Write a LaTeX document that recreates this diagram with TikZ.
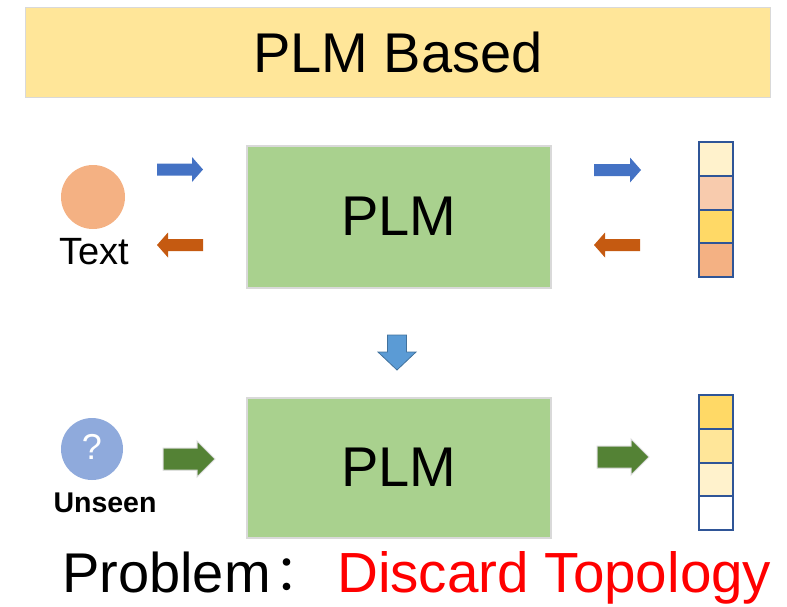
\documentclass[tikz,border=0pt]{standalone}
\usepackage{fontspec}
\setmainfont{Liberation Sans}
\newfontfamily\cjkfont{Noto Sans CJK SC}
\definecolor{bandfill}{HTML}{FFE699}
\definecolor{plmfill}{HTML}{A9D18E}
\definecolor{textcirc}{HTML}{F4B183}
\definecolor{unseencirc}{HTML}{8FAADC}
\definecolor{arrblue}{HTML}{4472C4}
\definecolor{arrorange}{HTML}{C55A11}
\definecolor{arrgreen}{HTML}{548235}
\definecolor{downfill}{HTML}{5B9BD5}
\definecolor{downline}{HTML}{41719C}
\definecolor{cellline}{HTML}{2F5597}
\definecolor{cA}{HTML}{FFF2CC}
\definecolor{cB}{HTML}{F8CBAD}
\definecolor{cC}{HTML}{FFD966}
\definecolor{cD}{HTML}{F4B183}
\definecolor{cE}{HTML}{FFE699}
\newcommand{\blockarrowR}[4]{% tailx, tipx, cy, color
  \fill[#4] (#1,#3-6) -- (#2-11,#3-6) -- (#2-11,#3-12.5) -- (#2,#3) -- (#2-11,#3+12.5) -- (#2-11,#3+6) -- (#1,#3+6) -- cycle;}
\newcommand{\blockarrowL}[4]{% tailx, tipx, cy, color
  \fill[#4] (#1,#3-6) -- (#2+11,#3-6) -- (#2+11,#3-12.5) -- (#2,#3) -- (#2+11,#3+12.5) -- (#2+11,#3+6) -- (#1,#3+6) -- cycle;}
\newcommand{\greenarrow}[3]{% tailx, tipx, cy
  \filldraw[fill=arrgreen, draw=black!15, line width=1pt] (#1,#3-11) -- (#2-18,#3-11) -- (#2-18,#3-18) -- (#2,#3) -- (#2-18,#3+18) -- (#2-18,#3+11) -- (#1,#3+11) -- cycle;}
\tikzset{
  plmbox/.style={draw=black!15, line width=1.2pt, fill=plmfill, minimum width=304pt, minimum height=142pt, inner sep=0pt},
  bigtext/.style={font=\fontsize{56}{60}\selectfont},
  cell/.style={draw=cellline, line width=2pt, minimum width=34pt, minimum height=33.75pt, inner sep=0pt},
  circ/.style={circle, minimum size=64pt, inner sep=0pt},
}
\begin{document}
\begin{tikzpicture}[x=1pt,y=-1pt]
\useasboundingbox (0,0) rectangle (787,606);
% title band
\node[draw=black!15, line width=1pt, fill=bandfill, minimum width=745pt, minimum height=90pt, inner sep=0pt] (band) at (397.5,52) {};
\node[bigtext] (title) at (398,52.5) {PLM Based};
% top row
\node[circ, fill=textcirc] (txt) at (93,197) {};
\node[font=\fontsize{38}{42}\selectfont] (txtlabel) at (94,252) {Text};
\blockarrowR{157}{203}{169.5}{arrblue}
\blockarrowL{203}{157}{245}{arrorange}
\node[plmbox] (plm1) at (399,217) {};
\node[bigtext] (plm1t) at (399,216.5) {PLM};
\blockarrowR{594}{641}{170}{arrblue}
\blockarrowL{640}{594}{245}{arrorange}
\node[cell, fill=cA] (v1a) at (716,159) {};
\node[cell, fill=cB] (v1b) at (716,193) {};
\node[cell, fill=cC] (v1c) at (716,226.5) {};
\node[cell, fill=cD] (v1d) at (716,260) {};
% down arrow
\filldraw[fill=downfill, draw=downline, line width=0.8pt] (387.5,335) -- (406.5,335) -- (406.5,352) -- (416,352) -- (397,370) -- (378,352) -- (387.5,352) -- cycle;
% bottom row
\node[circ, fill=unseencirc, minimum size=62pt] (uns) at (92,449) {};
\node[text=white, font=\fontsize{36}{40}\selectfont] (qmark) at (92,447) {?};
\node[font=\bfseries\fontsize{28.5}{32}\selectfont] (unslabel) at (105,503) {Unseen};
\greenarrow{163}{215}{459}
\node[plmbox, minimum height=140pt] (plm2) at (399,468) {};
\node[bigtext] (plm2t) at (399,467.5) {PLM};
\greenarrow{597}{649}{457}
\node[cell, fill=cC] (v2a) at (716,412) {};
\node[cell, fill=cE] (v2b) at (716,446) {};
\node[cell, fill=cA] (v2c) at (716,479.5) {};
\node[cell, fill=white] (v2d) at (716,513) {};
% problem line
\node[bigtext, anchor=base west, inner sep=0pt] (prob) at (62,592) {Problem};
\node[font=\cjkfont\fontsize{50}{56}\selectfont, anchor=base west, inner sep=0pt] (colon) at (274,590) {：};
\node[font=\fontsize{56.6}{60}\selectfont, text=red, anchor=base west, inner sep=0pt] (disc) at (337,592) {Discard Topology};
\end{tikzpicture}
\end{document}
